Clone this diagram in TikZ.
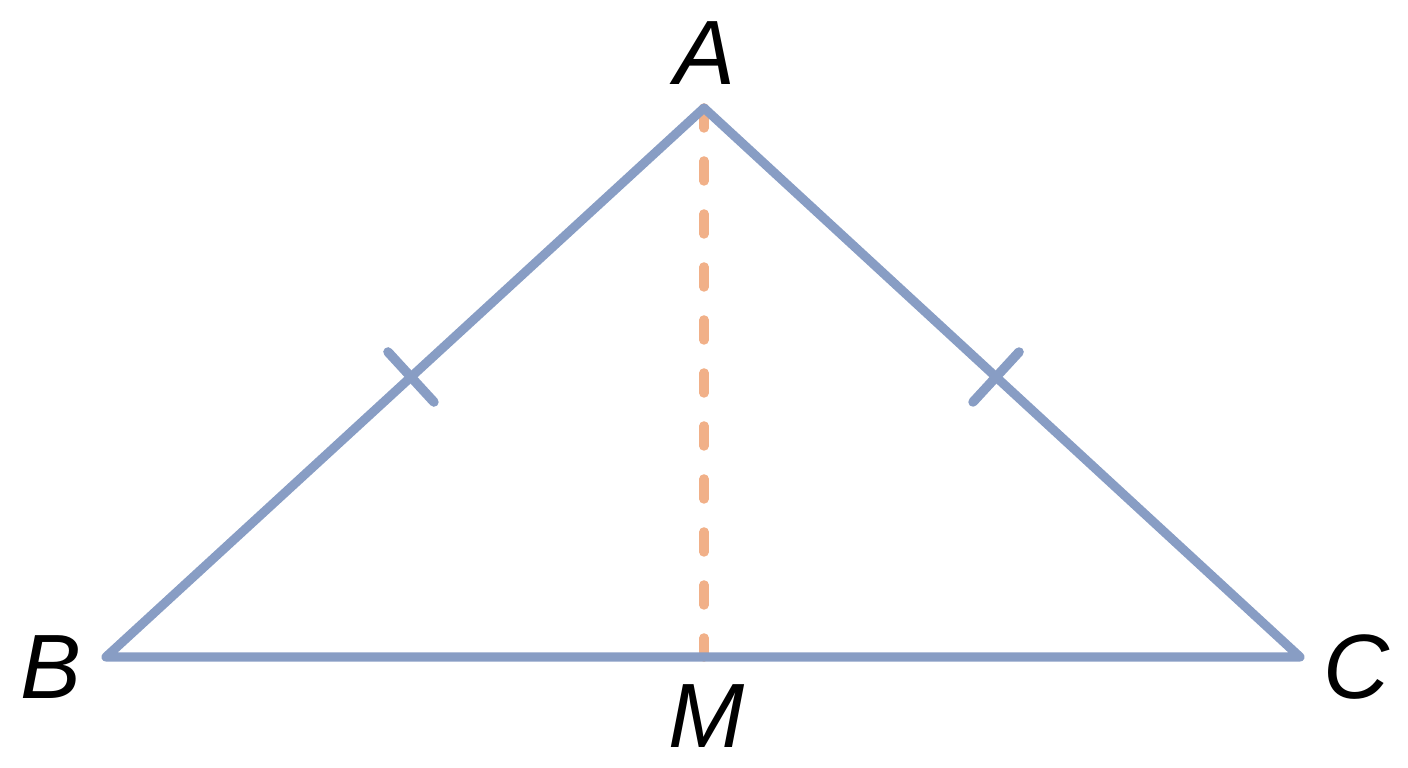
\documentclass[tikz,border=0pt]{standalone}
\usepackage{fontspec}
\setmainfont{Liberation Sans}
\usetikzlibrary{calc}
\definecolor{sideblue}{RGB}{136,157,196}
\definecolor{medorange}{RGB}{241,176,136}
\tikzset{
	side/.style={color=sideblue,line width=2.6pt,line cap=round,line join=round},
	tick/.style={color=sideblue,line width=2.7pt,line cap=round},
	median/.style={color=medorange,line width=2.7pt,line cap=round,dash pattern=on 0.2cm off 0.33cm},
	lbl/.style={anchor=base,inner sep=0pt,font=\fontsize{26}{30}\selectfont\itshape}
}

\begin{document}
\begin{tikzpicture}
\useasboundingbox (0,0) rectangle (14.08,7.68);
\coordinate (A) at (7.04,6.60);
\coordinate (B) at (1.06,1.11);
\coordinate (C) at (13.00,1.11);
\coordinate (M) at (7.04,1.11);
% median first, sides on top
\draw[median] (A) -- (M);
\draw[side] (A) -- (B) -- (C) -- cycle;
% equal sides
\coordinate (mAB) at ($(B)!0.51!(A)$);
\coordinate (mAC) at ($(C)!0.51!(A)$);
\draw[tick] ($(mAB)!0.34cm!90:(A)$) -- ($(mAB)!0.34cm!-90:(A)$);
\draw[tick] ($(mAC)!0.34cm!90:(A)$) -- ($(mAC)!0.34cm!-90:(A)$);
\node[lbl] (labA) at (7.05,6.83) {A};
\node[lbl] (labB) at (0.51,0.69) {B};
\node[lbl] (labC) at (13.56,0.69) {C};
\node[lbl] (labM) at (7.07,0.20) {M};
\end{tikzpicture}
\end{document}
